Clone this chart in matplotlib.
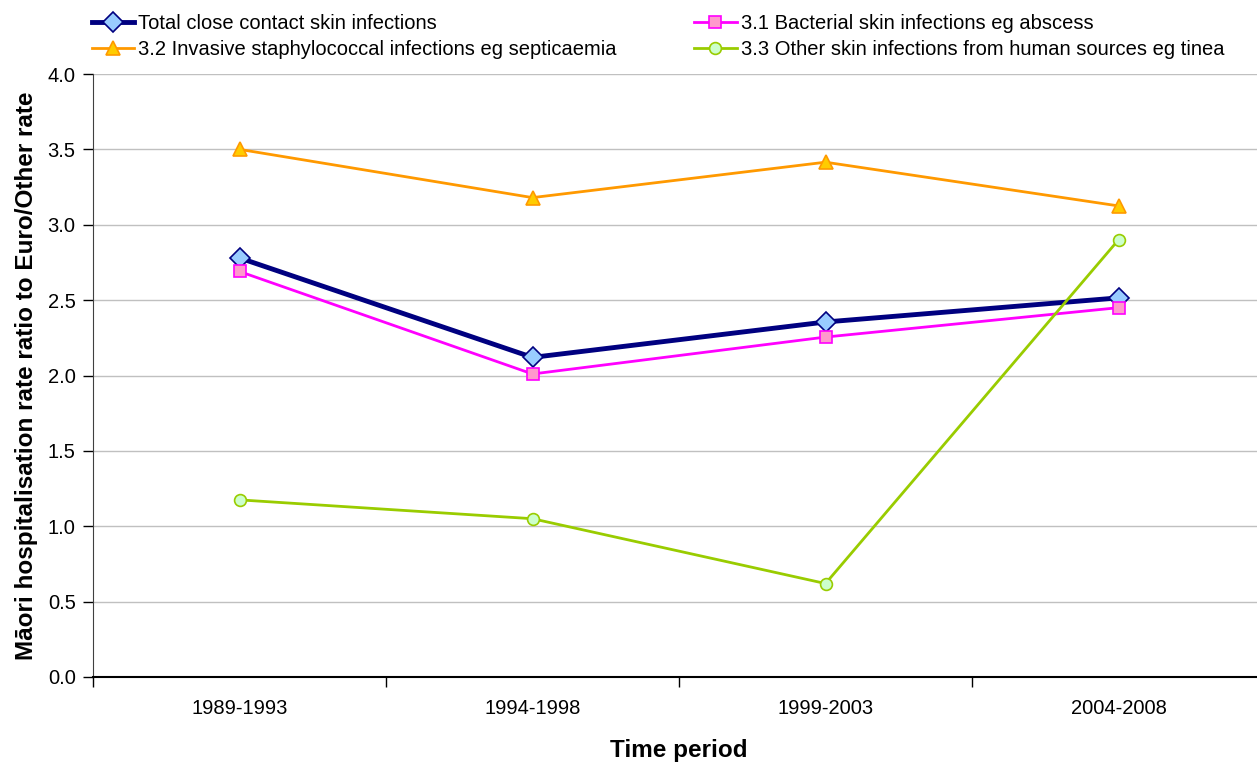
import matplotlib
matplotlib.use("Agg")
import matplotlib.pyplot as plt
from matplotlib.ticker import FixedLocator

plt.rcParams["font.family"] = ["Liberation Sans", "DejaVu Sans"]

periods = ["1989-1993", "1994-1998", "1999-2003", "2004-2008"]
total = [2.78, 2.12, 2.355, 2.515]
bacterial = [2.69, 2.01, 2.255, 2.45]
invasive = [3.50, 3.18, 3.415, 3.125]
other = [1.175, 1.05, 0.62, 2.90]

series = [
    ("Total close contact skin infections", total, "#000080", 3.5, "D", "#99CCFF", "#000080", 10),
    ("3.1 Bacterial skin infections eg abscess", bacterial, "#FF00FF", 2.0, "s", "#FF99CC", "#FF00FF", 8),
    ("3.2 Invasive staphylococcal infections eg septicaemia", invasive, "#FF9900", 2.0, "^", "#FFCC00", "#FF9900", 9.5),
    ("3.3 Other skin infections from human sources eg tinea", other, "#99CC00", 2.0, "o", "#CCFFCC", "#99CC00", 8.5),
]

fig = plt.figure(figsize=(12.57, 7.63), dpi=100)
ax = fig.add_axes([93 / 1257, 1 - 677 / 763, (1265 - 93) / 1257, (677 - 74) / 763])

x = list(range(len(periods)))
handles = []
for label, vals, col, lw, mk, fc, ec, ms in series:
    h, = ax.plot(x, vals, color=col, lw=lw, marker=mk, markerfacecolor=fc,
                 markeredgecolor=ec, markeredgewidth=1.2, markersize=ms, label=label,
                 clip_on=False, zorder=3)
    handles.append(h)

ax.set_xlim(-0.5, 3.5)
ax.set_ylim(0, 4.0)
ax.set_yticks([i * 0.5 for i in range(9)])
ax.set_yticklabels([f"{i * 0.5:.1f}" for i in range(9)], fontsize=14.5)
ax.set_xticks(x)
ax.set_xticklabels(periods, fontsize=14.5)
ax.xaxis.set_minor_locator(FixedLocator([-0.5, 0.5, 1.5, 2.5, 3.5]))
ax.tick_params(axis="x", which="major", length=0, pad=16)
ax.tick_params(axis="x", which="minor", length=7, width=1, color="black")
ax.tick_params(axis="y", length=7, width=1, color="black", pad=5.5)

ax.grid(axis="y", color="#C0C0C0", lw=1)
ax.set_axisbelow(True)
for s in ["top", "right"]:
    ax.spines[s].set_visible(False)
ax.spines["left"].set_color("#404040")
ax.spines["bottom"].set_color("black")
ax.spines["bottom"].set_linewidth(1.5)

ax.set_ylabel("Māori hospitalisation rate ratio to Euro/Other rate",
              fontsize=17.5, fontweight="bold", labelpad=7)
ax.set_xlabel("Time period", fontsize=17.5, fontweight="bold", labelpad=15)

order = [0, 2, 1, 3]
fig.legend([handles[i] for i in order], [series[i][0] for i in order],
           ncol=2, loc="upper left", bbox_to_anchor=(92 / 1257, 1 - 14 / 763),
           frameon=False, borderpad=0, borderaxespad=0,
           fontsize=14.5, handlelength=2.1, handletextpad=0.2, columnspacing=3.85,
           labelspacing=0.35)

fig.savefig("out.png", dpi=100)
